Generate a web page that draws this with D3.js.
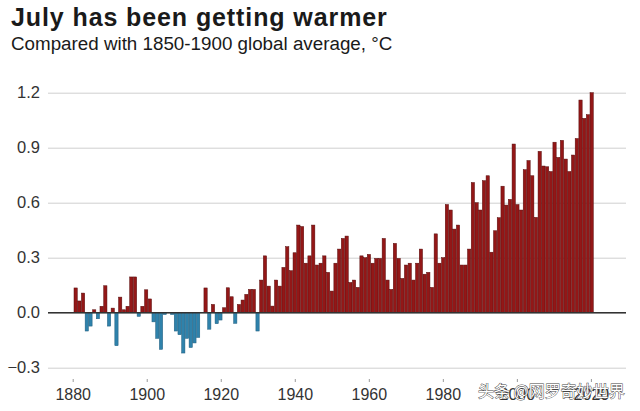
<!DOCTYPE html>
<html>
<head>
<meta charset="utf-8">
<script src="https://cdn.jsdelivr.net/npm/d3@7"></script>
<style>
  html, body { margin: 0; padding: 0; background: #fff; }
  svg { display: block; font-family: "Liberation Sans", Arial, Helvetica, sans-serif; }
</style>
</head>
<body>
<div id="chart"></div>
<script>
// ---- data ----
const titleText = "July has been getting warmer";
const subtitleText = "Compared with 1850-1900 global average, °C";
const watermarkText = "头条 @网罗奇妙世界";

const firstYear = 1880;
const anomalies = [
  0.135, 0.064, 0.107, -0.10, -0.073, 0.016, -0.033, 0.035, 0.147, -0.073,   // 1880s
  0.025, -0.18, 0.085, 0.016, 0.035, 0.195, 0.195, -0.02, 0.035, 0.125,      // 1890s
  0.075, -0.05, -0.14, -0.20, -0.01, 0.0, -0.01, -0.10, -0.12, -0.22,        // 1900s
  -0.14, -0.19, -0.165, -0.135, 0.0, 0.135, -0.09, 0.045, -0.06, -0.04,      // 1910s
  0.027, 0.136, 0.087, -0.058, 0.045, 0.069, 0.10, 0.127, 0.127, -0.10,      // 1920s
  0.178, 0.31, 0.145, 0.036, 0.178, 0.145, 0.247, 0.36, 0.229, 0.327,        // 1930s
  0.478, 0.47, 0.27, 0.31, 0.478, 0.26, 0.27, 0.31, 0.22, 0.118,             // 1940s
  0.27, 0.347, 0.405, 0.418, 0.165, 0.178, 0.138, 0.31, 0.30, 0.318,        // 1950s
  0.27, 0.296, 0.296, 0.405, 0.178, 0.127, 0.378, 0.296, 0.187, 0.26,       // 1960s
  0.27, 0.178, 0.27, 0.347, 0.21, 0.22, 0.138, 0.43, 0.27, 0.30,            // 1970s
  0.59, 0.56, 0.456, 0.478, 0.26, 0.26, 0.347, 0.71, 0.60, 0.56,            // 1980s
  0.72, 0.747, 0.33, 0.447, 0.518, 0.69, 0.587, 0.618, 0.92, 0.59,          // 1990s
  0.56, 0.78, 0.83, 0.747, 0.52, 0.88, 0.80, 0.796, 0.77, 0.93,             // 2000s
  0.847, 0.94, 0.838, 0.77, 0.86, 0.95, 1.16, 1.06, 1.08, 1.20              // 2010s
];
const years = anomalies.map((_, i) => firstYear + i);
const yTicks = [-0.3, 0, 0.3, 0.6, 0.9, 1.2];
const xTicks = [1880, 1900, 1920, 1940, 1960, 1980, 2000, 2020];

// ---- layout ----
const W = 640, H = 411;
const svg = d3.select("#chart").append("svg").attr("width", W).attr("height", H);

const y = d3.scaleLinear().domain([-0.3, 1.2]).range([367.7, 92.7]);
const xBar = d3.scaleBand().domain(years).range([74, 593.3]).paddingInner(0.12);
const xAxisScale = d3.scaleLinear().domain([1880, 2020]).range([72.7, 590.9]);
const gridLeft = 48, gridRight = 626;

// title
svg.append("text").attr("x", 11).attr("y", 26)
  .attr("font-size", 25).attr("font-weight", "bold").attr("fill", "#1a1a1a")
  .attr("letter-spacing", 0.9)
  .text(titleText);
svg.append("text").attr("x", 11).attr("y", 50)
  .attr("font-size", 18.8).attr("fill", "#1a1a1a")
  .text(subtitleText);

// y grid + labels
const yAxis = d3.axisLeft(y).tickValues(yTicks)
  .tickSize(-(gridRight - gridLeft))
  .tickFormat(d3.format(".1f"));
const yg = svg.append("g").attr("transform", `translate(${gridLeft},0)`).call(yAxis);
yg.select(".domain").remove();
yg.selectAll(".tick line").attr("stroke", "#cfcfcf").attr("stroke-width", 1);
yg.selectAll(".tick text").attr("x", -8).attr("font-size", 16.5).attr("fill", "#333")
  .attr("font-family", "'Liberation Sans', Arial, sans-serif");

// bars
svg.append("g").selectAll("rect").data(years).join("rect")
  .attr("x", d => xBar(d))
  .attr("width", xBar.bandwidth())
  .attr("y", (d, i) => y(Math.max(0, anomalies[i])))
  .attr("height", (d, i) => Math.abs(y(anomalies[i]) - y(0)))
  .attr("fill", (d, i) => anomalies[i] >= 0 ? "#931717" : "#2f82ab")
  .attr("stroke", (d, i) => anomalies[i] >= 0 ? "#560b0b" : "#1d5b7c")
  .attr("stroke-width", 0.5);

// zero line
svg.append("line")
  .attr("x1", gridLeft).attr("x2", gridRight)
  .attr("y1", y(0)).attr("y2", y(0))
  .attr("stroke", "#333").attr("stroke-width", 1.6);

// x axis
const xAxis = d3.axisBottom(xAxisScale).tickValues(xTicks)
  .tickFormat(d3.format("d")).tickSize(3).tickPadding(7);
const xg = svg.append("g").attr("transform", "translate(0,379)").call(xAxis);
xg.select(".domain").remove();
xg.selectAll(".tick line").attr("stroke", "#999");
xg.selectAll(".tick text").attr("font-size", 16).attr("fill", "#333")
  .attr("font-family", "'Liberation Sans', Arial, sans-serif");

// watermark (overlay present in the reference image)
svg.append("text").attr("x", 478).attr("y", 397)
  .attr("font-size", 16).attr("font-family", "'Noto Sans CJK SC', sans-serif")
  .attr("fill", "#fff").attr("stroke", "#444").attr("stroke-width", 0.9)
  .attr("paint-order", "stroke")
  .text(watermarkText);
</script>
</body>
</html>
